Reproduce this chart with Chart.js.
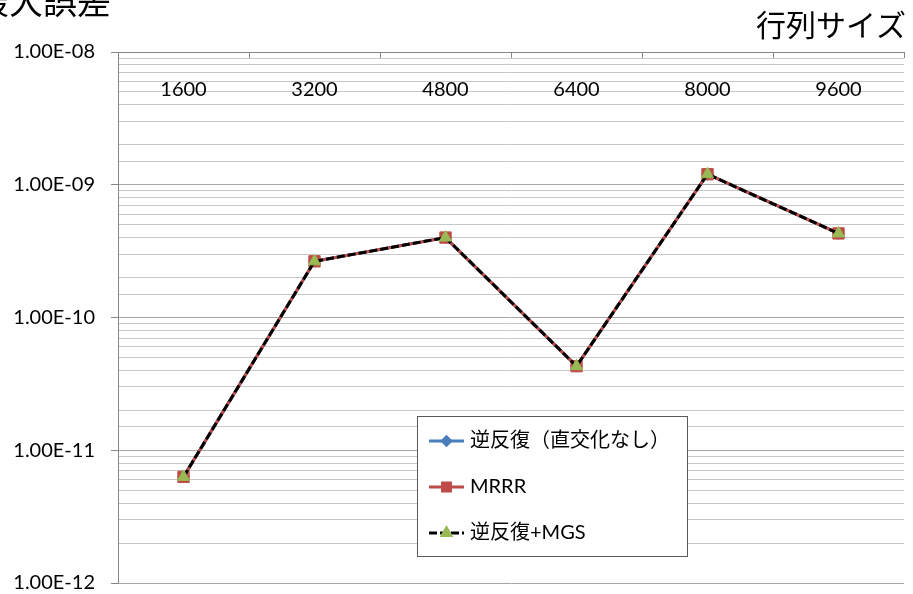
<!DOCTYPE html>
<html lang="ja">
<head>
<meta charset="utf-8">
<title>最大誤差</title>
<script src="https://cdn.jsdelivr.net/npm/chart.js@4/dist/chart.umd.min.js"></script>
<style>
  html, body { margin: 0; padding: 0; background: #ffffff; }
  #wrap { position: relative; width: 913px; height: 594px; }
</style>
</head>
<body>
<div id="wrap"><canvas id="chart" width="913" height="594"></canvas></div>
<script>
// 行列サイズ (categories)
const sizes = ['1600', '3200', '4800', '6400', '8000', '9600'];

// 最大誤差 per method
const inverseIteration = [6.3e-12, 2.65e-10, 4.0e-10, 4.3e-11, 1.2e-9, 4.3e-10];
const mrrr             = [6.3e-12, 2.65e-10, 4.0e-10, 4.3e-11, 1.2e-9, 4.3e-10];
const inverseMgs       = [6.3e-12, 2.65e-10, 4.0e-10, 4.3e-11, 1.2e-9, 4.3e-10];

const seriesNames = ['逆反復（直交化なし）', 'MRRR', '逆反復+MGS'];

// decade tick labels, from 1e-12 up to 1e-8
const yTickValues = [1e-12, 1e-11, 1e-10, 1e-9, 1e-8];
const yTickLabels = ['1.00E-12', '1.00E-11', '1.00E-10', '1.00E-09', '1.00E-08'];

const axisTitleY = '最大誤差';
const axisTitleX = '行列サイズ';

const FONT = 'Lato, "Noto Sans CJK JP", sans-serif';
const CJK_FONT = '"Noto Sans CJK JP", sans-serif';

function decadeIndex(v) {
  const e = Math.log10(v);
  const r = Math.round(e);
  if (Math.abs(e - r) > 1e-6) return -1;
  return yTickValues.findIndex(t => Math.abs(Math.log10(t) - r) < 1e-6);
}

// axis titles drawn around the plot
const axisTitles = {
  id: 'axisTitles',
  afterDraw(chart) {
    const ctx = chart.ctx;
    const area = chart.chartArea;
    ctx.save();
    ctx.fillStyle = '#000';
    ctx.textBaseline = 'middle';
    ctx.textAlign = 'right';
    ctx.font = '34px ' + CJK_FONT;
    ctx.fillText(axisTitleY, area.left - 7, area.top - 51);
    ctx.font = '30px ' + CJK_FONT;
    ctx.fillText(axisTitleX, area.right + 2, area.top - 27);
    ctx.restore();
  }
};

// boxed legend placed inside the plot area
const boxLegend = {
  id: 'boxLegend',
  afterDraw(chart, args, opts) {
    const ctx = chart.ctx;
    const area = chart.chartArea;
    const x = area.left + opts.x, y = area.top + opts.y;
    ctx.save();
    ctx.fillStyle = '#ffffff';
    ctx.fillRect(x, y, opts.w, opts.h);
    ctx.strokeStyle = '#595959';
    ctx.lineWidth = 1;
    ctx.strokeRect(Math.round(x) + 0.5, Math.round(y) + 0.5, opts.w, opts.h);
    chart.data.datasets.forEach((ds, i) => {
      const cy = y + opts.rows[i];
      const lx0 = x + 12, lx1 = x + 47;
      ctx.save();
      ctx.strokeStyle = ds.borderColor;
      ctx.lineWidth = ds.borderWidth;
      ctx.setLineDash(ds.borderDash || []);
      ctx.beginPath();
      ctx.moveTo(lx0, cy);
      ctx.lineTo(lx1, cy);
      ctx.stroke();
      ctx.setLineDash([]);
      ctx.fillStyle = ds.pointBackgroundColor;
      ctx.strokeStyle = ds.pointBorderColor;
      Chart.helpers.drawPoint(ctx, {
        pointStyle: ds.pointStyle,
        radius: ds.pointRadius * 0.7,
        rotation: 0,
        borderWidth: ds.pointBorderWidth
      }, (lx0 + lx1) / 2, cy);
      ctx.restore();
      ctx.fillStyle = '#000';
      ctx.font = '20px ' + FONT;
      ctx.textAlign = 'left';
      ctx.textBaseline = 'middle';
      ctx.fillText(ds.label, x + 53, cy);
    });
    ctx.restore();
  }
};

const datasets = [
  {
    label: seriesNames[0],
    data: inverseIteration,
    borderColor: '#4A7EBB',
    backgroundColor: '#4A7EBB',
    borderWidth: 3,
    pointStyle: 'rectRot',
    pointRadius: 6,
    pointBackgroundColor: '#4A7EBB',
    pointBorderColor: '#4A7EBB',
    pointBorderWidth: 1,
    order: 2
  },
  {
    label: seriesNames[1],
    data: mrrr,
    borderColor: '#BE4B48',
    backgroundColor: '#BE4B48',
    borderWidth: 3,
    pointStyle: 'rect',
    pointRadius: 8,
    pointBackgroundColor: '#BE4B48',
    pointBorderColor: '#BE4B48',
    pointBorderWidth: 1,
    order: 1
  },
  {
    label: seriesNames[2],
    data: inverseMgs,
    borderColor: '#000000',
    backgroundColor: '#000000',
    borderWidth: 3,
    borderDash: [8, 3],
    pointStyle: 'triangle',
    pointRadius: 7,
    pointBackgroundColor: '#98B954',
    pointBorderColor: '#98B954',
    pointBorderWidth: 1,
    order: 0
  }
];

new Chart(document.getElementById('chart'), {
  type: 'line',
  data: { labels: sizes, datasets },
  plugins: [axisTitles, boxLegend],
  options: {
    responsive: false,
    animation: false,
    devicePixelRatio: 1,
    layout: { padding: { top: 52, left: 0, right: 1, bottom: 11 } },
    elements: { line: { tension: 0 } },
    plugins: {
      legend: { display: false },
      tooltip: { enabled: false },
      title: { display: false },
      boxLegend: { x: 299, y: 364, w: 270, h: 140, rows: [25, 71, 117] }
    },
    scales: {
      x: {
        type: 'category',
        position: 'top',
        offset: true,
        grid: {
          offset: true,
          drawOnChartArea: false,
          drawTicks: true,
          tickLength: -6,
          color: '#868686',
          lineWidth: 1
        },
        border: { display: true, color: '#868686', width: 1 },
        ticks: {
          color: '#000',
          font: { family: FONT, size: 20 },
          mirror: true,
          padding: 26,
          minRotation: 0,
          maxRotation: 0,
          autoSkip: false
        },
        afterFit(scale) {
          scale.height = 0;
          scale.paddingLeft = 0;
          scale.paddingRight = 0;
        }
      },
      y: {
        type: 'logarithmic',
        min: yTickValues[0],
        max: yTickValues[yTickValues.length - 1],
        grid: {
          color: ctx => (ctx.tick && decadeIndex(ctx.tick.value) >= 0) ? '#a6a6a6' : '#c8c8c8',
          tickColor: ctx => (ctx.tick && decadeIndex(ctx.tick.value) >= 0) ? '#868686' : 'rgba(0,0,0,0)',
          tickLength: 7,
          lineWidth: 1
        },
        border: { display: true, color: '#868686', width: 1 },
        ticks: {
          color: '#000',
          font: { family: FONT, size: 20 },
          padding: 16,
          autoSkip: false,
          callback: (v) => {
            const i = decadeIndex(v);
            return i >= 0 ? yTickLabels[i] : '';
          }
        },
        afterFit(scale) {
          scale.width = 118;
          scale.paddingTop = 0;
          scale.paddingBottom = 0;
        }
      }
    }
  }
});
</script>
</body>
</html>
